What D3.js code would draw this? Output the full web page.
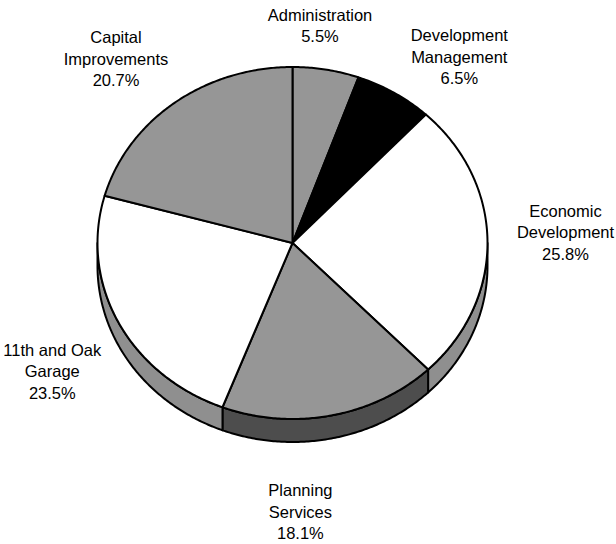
<!DOCTYPE html>
<html>
<head>
<meta charset="utf-8">
<script src="https://cdn.jsdelivr.net/npm/d3@7"></script>
<style>
html,body{margin:0;padding:0;background:#fff;}
svg{display:block;}
</style>
</head>
<body>
<script>
// ---- data ----
const categories = ["Administration","Development Management","Economic Development","Planning Services","11th and Oak Garage","Capital Improvements"];
const values = [5.5, 6.5, 25.8, 18.1, 23.5, 20.7];
const labelLines = [["Administration"],["Development","Management"],["Economic","Development"],["Planning","Services"],["11th and Oak","Garage"],["Capital","Improvements"]];

// ---- styles / layout ----
const topFill  = ["#969696","#000000","#ffffff","#969696","#ffffff","#969696"];
const sideFill = ["#4d4d4d","#000000","#8f8f8f","#4d4d4d","#8f8f8f","#4d4d4d"];
const labelNudge = [[-6,-49],[65,-52],[78,-25],[-31,80.5],[-66,33.6],[-58.5,-60]];

const W = 616, H = 544;
const cx = 292.5, cy = 243, rx = 195, ry = 176, depth = 23;
const fontSize = 16.5, lineH = 21.7;

const svg = d3.select("body").append("svg").attr("width", W).attr("height", H);

const pie = d3.pie().sort(null).value(d => d)(values);

const px = a => cx + rx * Math.sin(a);
const py = a => cy - ry * Math.cos(a);

function arcPts(a0, a1, dy) {
  const n = Math.max(2, Math.ceil(Math.abs(a1 - a0) / 0.01));
  const pts = [];
  for (let i = 0; i <= n; i++) {
    const a = a0 + (a1 - a0) * i / n;
    pts.push([px(a), py(a) + dy]);
  }
  return pts;
}
const line = d3.line();

// sides (front half only: angles between PI/2 and 3PI/2)
const gSide = svg.append("g");
pie.forEach((d, i) => {
  const a0 = Math.max(d.startAngle, Math.PI / 2);
  const a1 = Math.min(d.endAngle, 3 * Math.PI / 2);
  if (a1 <= a0) return;
  const pts = arcPts(a0, a1, 0).concat(arcPts(a1, a0, depth));
  gSide.append("path")
    .attr("d", line(pts) + "Z")
    .attr("fill", sideFill[i])
    .attr("stroke", "#000")
    .attr("stroke-width", 2)
    .attr("stroke-linejoin", "round");
});

// top faces
const gTop = svg.append("g");
pie.forEach((d, i) => {
  const pts = [[cx, cy]].concat(arcPts(d.startAngle, d.endAngle, 0));
  gTop.append("path")
    .attr("d", line(pts) + "Z")
    .attr("fill", topFill[i])
    .attr("stroke", "#000")
    .attr("stroke-width", 2)
    .attr("stroke-linejoin", "round");
});

// labels
const gLab = svg.append("g")
  .attr("font-family", "Liberation Sans, Arial, sans-serif")
  .attr("font-size", fontSize)
  .attr("fill", "#000")
  .attr("text-anchor", "middle");
const total = d3.sum(values);
pie.forEach((d, i) => {
  const mid = (d.startAngle + d.endAngle) / 2;
  const ax = px(mid) + labelNudge[i][0];
  const ay = py(mid) + labelNudge[i][1];
  const lines = labelLines[i].concat([d3.format(".1f")(values[i]) + "%"]);
  const t = gLab.append("text").attr("x", ax).attr("y", ay);
  lines.forEach((s, k) => {
    t.append("tspan").attr("x", ax).attr("y", ay + k * lineH).text(s);
  });
});
</script>
</body>
</html>
